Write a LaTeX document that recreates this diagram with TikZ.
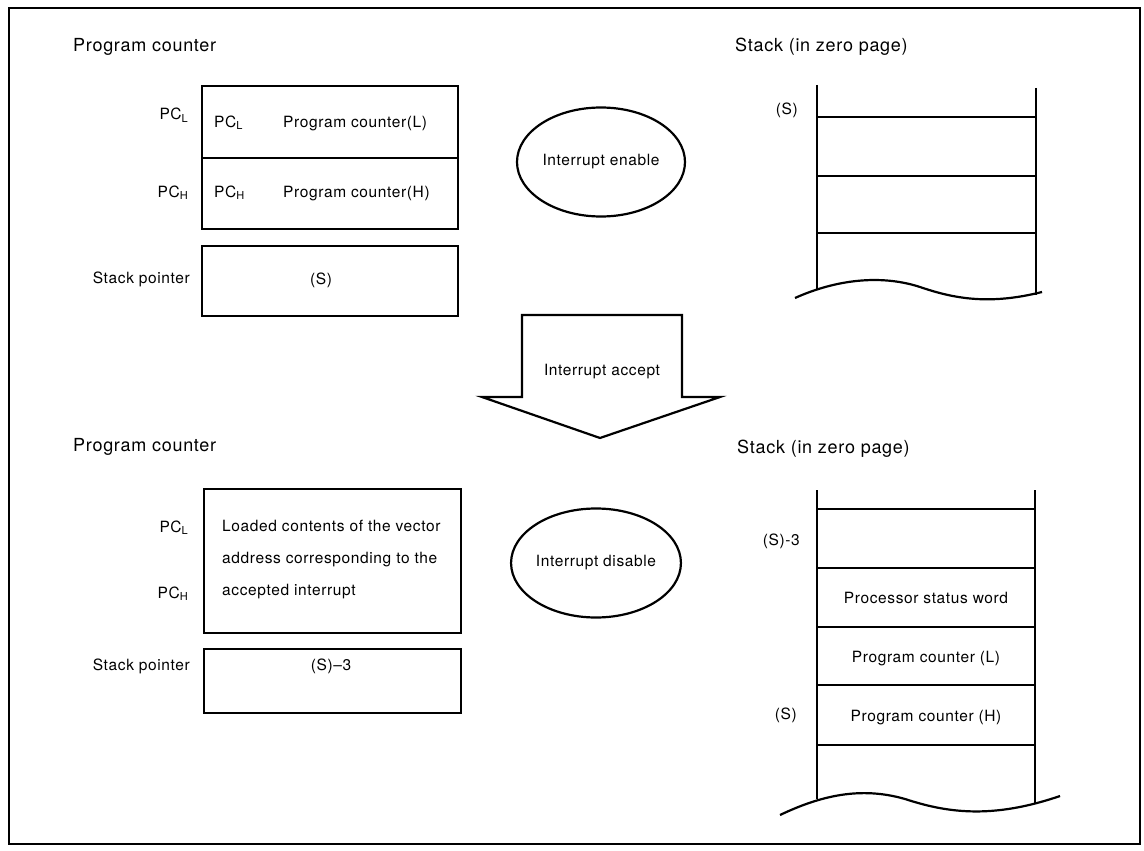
\documentclass[tikz,border=0pt]{standalone}
\usepackage{fontspec}
\setmainfont{TeX Gyre Heros}[LetterSpace=4]
\usetikzlibrary{shapes.geometric}
\newcommand\ttlfont{\fontsize{18}{20}\selectfont}
\newcommand\txtfont{\fontsize{15.5}{18}\selectfont}
\newcommand\lowidx[1]{\raisebox{-0.35ex}{\fontsize{11}{12}\selectfont #1}}
\begin{document}
\begin{tikzpicture}[x=1pt,y=-1pt,line join=miter,
  frame/.style={draw,line width=1.8pt},
  reg/.style={draw,line width=2.2pt,anchor=north west,inner sep=0pt,minimum width=256pt},
  ttl/.style={font=\ttlfont,anchor=base west,inner sep=0pt},
  lbl/.style={font=\txtfont,anchor=base east,inner sep=0pt},
  txt/.style={font=\txtfont,anchor=base west,inner sep=0pt},
  ctxt/.style={font=\txtfont,anchor=base,inner sep=0pt},
  state/.style={draw,ellipse,line width=2.2pt,inner sep=0pt,font=\txtfont,
    minimum width=168pt,minimum height=109pt},
  wall/.style={line width=2.2pt},
  cell/.style={line width=1.9pt}]
\useasboundingbox (0,0) rectangle (1144,851);
\node[frame,anchor=north west,inner sep=0pt,minimum width=1131pt,minimum height=836pt] (frame) at (8,7) {};

% ---------- before the interrupt ----------
\node[ttl] (pctitleA) at (73,52) {Program counter};
\node[reg,minimum height=72pt] (pclA) at (201,85) {};
\node[reg,minimum height=71pt] (pchA) at (201,157) {};
\node[reg,minimum height=70pt] (spA) at (201,245) {};
\node[lbl] (pclAout) at (188,120) {PC\lowidx{L}};
\node[lbl] (pchAout) at (188,197) {PC\lowidx{H}};
\node[txt] (pclAin) at (214,127) {PC\lowidx{L}};
\node[txt] (pchAin) at (214,197) {PC\lowidx{H}};
\node[txt] (pclAtxt) at (283,127) {Program counter(L)};
\node[txt] (pchAtxt) at (283,197) {Program counter(H)};
\node[lbl] (spAlbl) at (190,283) {Stack pointer};
\node[ctxt] (spAval) at (321,284) {(S)};

\node[state] (ien) at (601,162) {Interrupt enable};

\node[ttl] (stitleA) at (735,52) {Stack (in zero page)};
\coordinate (aTL) at (817,85);
\coordinate (aBL) at (817,289);
\coordinate (aTR) at (1036,88);
\coordinate (aBR) at (1036,295);
\draw[wall] (aTL) -- (aBL);
\draw[wall] (aTR) -- (aBR);
\foreach \yy in {117,176,233} \draw[cell] (817,\yy) -- (1036,\yy);
\draw[wall] (795,298) .. controls (835,280) and (880,274) .. (920,287)
  .. controls (955,299) and (990,305) .. (1042,292);
\node[lbl] (sA) at (798,114) {(S)};

% ---------- transition arrow ----------
\draw[line width=2.2pt] (522,315) -- (682,315) -- (682,397) -- (720,397)
  -- (600,438) -- (482,397) -- (522,397) -- cycle;
\node[ctxt] (accept) at (602,375) {Interrupt accept};

% ---------- after the interrupt ----------
\node[ttl] (pctitleB) at (73,451) {Program counter};
\node[reg,minimum width=257pt,minimum height=144pt] (pcB) at (203,488) {};
\node[reg,minimum width=257pt,minimum height=64pt] (spB) at (203,648) {};
\node[lbl] (pclB) at (188,532) {PC\lowidx{L}};
\node[lbl] (pchB) at (188,598) {PC\lowidx{H}};
\node[txt] (vec1) at (222,531) {Loaded contents of the vector};
\node[txt] (vec2) at (222,563) {address corresponding to the};
\node[txt] (vec3) at (222,595) {accepted interrupt};
\node[lbl] (spBlbl) at (190,670) {Stack pointer};
\node[ctxt] (spBval) at (331,670) {(S)–3};

\node[state] (idis) at (596,563) {Interrupt disable};

\node[ttl] (stitleB) at (737,453) {Stack (in zero page)};
\coordinate (bTL) at (817,490);
\coordinate (bBL) at (817,799);
\coordinate (bTR) at (1035,490);
\coordinate (bBR) at (1035,804);
\draw[wall] (bTL) -- (bBL);
\draw[wall] (bTR) -- (bBR);
\foreach \yy in {509,568,627,685,745} \draw[cell] (817,\yy) -- (1035,\yy);
\draw[wall] (780,815) .. controls (820,796) and (860,786) .. (905,799)
  .. controls (945,812) and (990,820) .. (1060,796);
\node[lbl] (sB3) at (800,545) {(S)-3};
\node[lbl] (sB) at (797,719) {(S)};
\node[ctxt] (psw) at (926,603) {Processor status word};
\node[ctxt] (pclS) at (926,662) {Program counter (L)};
\node[ctxt] (pchS) at (926,721) {Program counter (H)};
\end{tikzpicture}
\end{document}
